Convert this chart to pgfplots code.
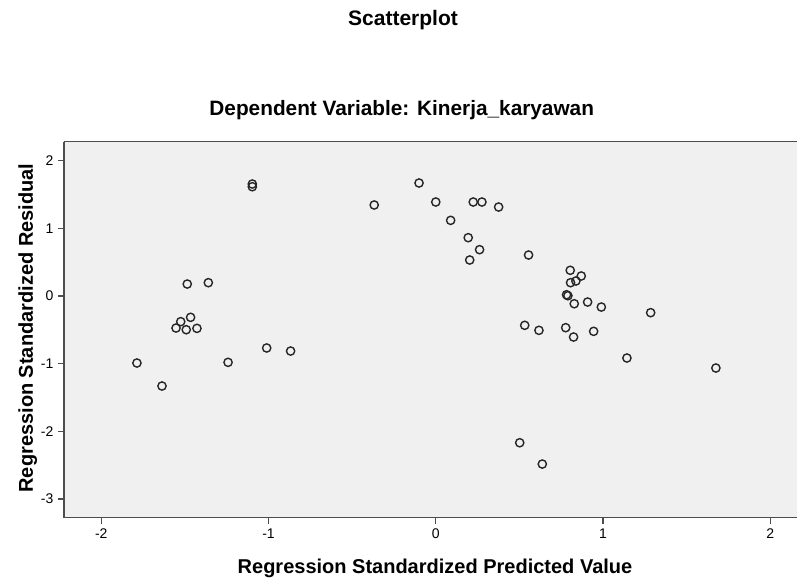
\documentclass[border=0pt]{standalone}
\usepackage{pgfplots}
\pgfplotsset{compat=1.18}
\usepackage{fontspec}
\setmainfont{Liberation Sans}
\definecolor{bg}{HTML}{F0F0F0}
\definecolor{frame}{HTML}{4D4D4D}
\definecolor{mk}{HTML}{262626}
\begin{document}
\begin{tikzpicture}
\begin{axis}[
 at={(0,0)}, anchor=south west,
 width=549.75pt, height=282pt, scale only axis,
 xmin=-2.223, xmax=2.160, ymin=-3.276, ymax=2.28,
 axis lines=left, axis line style={-, frame, line width=1pt},
 axis background/.style={fill=bg},
 xtick={-2,-1,0,1,2}, ytick={-3,-2,-1,0,1,2},
 tick align=outside, major tick length=4.5pt, tick style={frame, line width=1pt},
 ticklabel style={font=\fontsize{10.5}{12}\selectfont, text=black},
 /pgf/number format/assume math mode=true,
 clip=false,
]
\addplot[only marks, mark=o, mark size=3.1pt, mark options={mk, line width=1.05pt}] table {
x y
-1.097 1.655
-1.097 1.615
-0.368 1.345
-1.486 0.177
-1.360 0.197
-1.466 -0.315
-1.525 -0.379
-1.553 -0.473
-1.492 -0.498
-1.428 -0.478
-1.787 -0.990
-1.637 -1.330
-1.242 -0.980
-1.011 -0.768
-0.868 -0.813
-0.100 1.670
0.000 1.389
0.224 1.389
0.276 1.389
0.376 1.315
0.089 1.118
0.194 0.862
0.262 0.685
0.203 0.532
0.555 0.606
0.804 0.380
0.870 0.296
0.806 0.197
0.838 0.222
0.782 0.019
0.790 0.004
0.828 -0.114
0.908 -0.089
0.990 -0.163
1.285 -0.246
0.532 -0.433
0.617 -0.507
0.777 -0.468
0.824 -0.606
0.944 -0.522
1.143 -0.916
1.675 -1.064
0.502 -2.168
0.637 -2.483
};
\draw[frame, line width=1pt] (rel axis cs:0,1) -- (rel axis cs:1,1);
\end{axis}
\node[anchor=base, font=\fontsize{15.75}{18}\selectfont\bfseries] at (254.25pt,369.5pt) {Scatterplot};
\node[anchor=base, font=\fontsize{15.6}{18}\selectfont\bfseries] at (253.3pt,302pt) {Dependent Variable: Kinerja\_karyawan};
\node[anchor=base, font=\fontsize{15}{18}\selectfont\bfseries] at (278.25pt,-41.5pt) {Regression Standardized Predicted Value};
\node[anchor=base, rotate=90, font=\fontsize{15}{18}\selectfont\bfseries] at (-23.25pt,142.3pt) {Regression Standardized Residual};
\pgfresetboundingbox
\path[use as bounding box] (-48pt,-46.7pt) rectangle (549.75pt,388.3pt);
\end{tikzpicture}
\end{document}
